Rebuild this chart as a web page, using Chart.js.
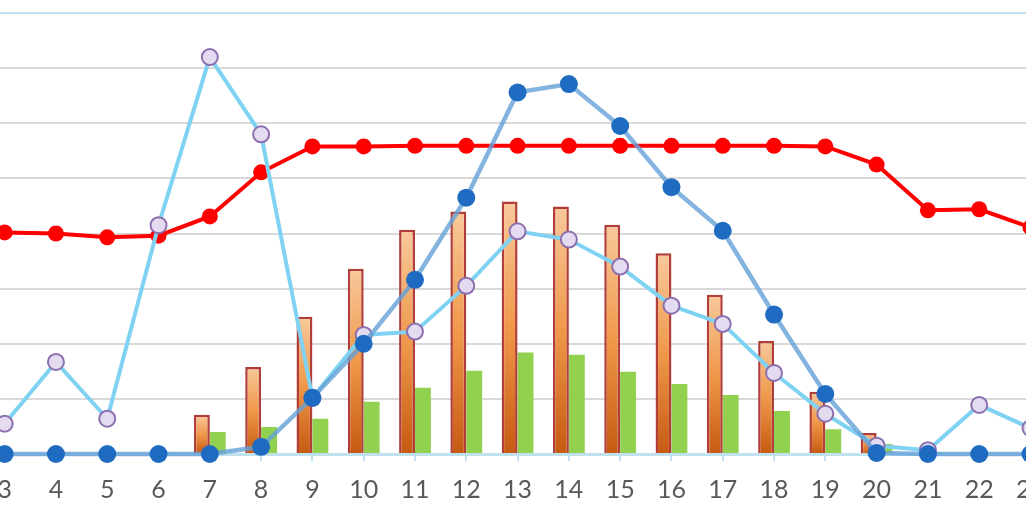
<!DOCTYPE html>
<html>
<head>
<meta charset="utf-8">
<script src="https://cdn.jsdelivr.net/npm/chart.js@4"></script>
<style>
  html, body { margin: 0; padding: 0; background: #fff; overflow: hidden; }
  #wrap { position: absolute; left: -21px; top: 0; width: 1080px; height: 522px; }
</style>
</head>
<body>
<div id="wrap"><canvas id="chart"></canvas></div>
<script>
const hours = ['3', '4', '5', '6', '7', '8', '9', '10', '11', '12', '13', '14', '15', '16', '17', '18', '19', '20', '21', '22', '23']

const redLine   = [40.2, 40.0, 39.3, 39.6, 43.1, 51.1, 55.8, 55.8, 55.9, 55.9, 55.9, 55.9, 55.9, 55.9, 55.9, 55.9, 55.8, 52.5, 44.2, 44.4, 41.1]
const lightLine = [5.5, 16.7, 6.4, 41.5, 72.0, 58.0, 10.2, 21.6, 22.2, 30.5, 40.4, 38.9, 34.0, 26.9, 23.6, 14.7, 7.3, 1.5, 0.7, 8.9, 4.7]
const blueLine  = [0, 0, 0, 0, 0, 1.3, 10.2, 20.0, 31.6, 46.5, 65.6, 67.1, 59.5, 48.4, 40.5, 25.3, 10.9, 0.2, 0, 0, 0]
const orangeBars = [0, 0, 0, 0.2, 7.1, 15.8, 24.9, 33.6, 40.7, 44.0, 45.8, 44.9, 41.6, 36.4, 28.9, 20.5, 11.3, 3.8, 0, 0, 0]
const greenBars  = [0, 0.3, 0.3, 0.3, 4.0, 4.9, 6.4, 9.5, 12.0, 15.1, 18.4, 18.0, 14.9, 12.7, 10.7, 7.8, 4.5, 1.8, 0.3, 0.3, 0]

const axisBlue = '#bfe2ee'

function orangeFill(c) {
  const chart = c.chart
  if (!chart.chartArea || c.raw == null) return '#f0984a'
  const y = chart.scales.y
  const top = y.getPixelForValue(c.raw)
  const base = y.getPixelForValue(0)
  if (base - top < 1) return '#c55a11'
  const g = chart.ctx.createLinearGradient(0, top, 0, base)
  g.addColorStop(0, '#f8c99c')
  g.addColorStop(0.5, '#f0984a')
  g.addColorStop(1, '#c55a11')
  return g
}

new Chart(document.getElementById('chart'), {
  type: 'bar',
  data: {
    labels: hours,
    datasets: [
      {
        type: 'line',
        data: blueLine,
        clip: false,
        borderColor: 'rgba(100,160,215,0.8)',
        borderWidth: 4.5,
        pointRadius: 9,
        pointBackgroundColor: '#1f6bc1',
        pointBorderWidth: 0,
        tension: 0,
      },
      {
        type: 'line',
        data: lightLine,
        clip: false,
        borderColor: '#7fd2f2',
        borderWidth: 4,
        pointRadius: 8,
        pointBackgroundColor: '#e4dbf1',
        pointBorderColor: '#8b6fae',
        pointBorderWidth: 2,
        tension: 0,
      },
      {
        type: 'line',
        data: redLine,
        clip: false,
        borderColor: '#ff0000',
        borderWidth: 4,
        pointRadius: 8,
        pointBackgroundColor: '#ff0000',
        pointBorderWidth: 0,
        tension: 0,
      },
      {
        data: orangeBars,
        backgroundColor: orangeFill,
        borderColor: '#b23e3a',
        borderWidth: 2.5,
        borderSkipped: 'bottom',
        barPercentage: 1,
        categoryPercentage: 0.62,
      },
      {
        data: greenBars,
        backgroundColor: '#92d050',
        borderWidth: 0,
        barPercentage: 1,
        categoryPercentage: 0.62,
      },
    ],
  },
  options: {
    responsive: true,
    maintainAspectRatio: false,
    animation: false,
    layout: { autoPadding: false, padding: { top: 13, left: 0, right: 0, bottom: 0 } },
    plugins: { legend: { display: false }, tooltip: { enabled: false } },
    scales: {
      x: {
        offset: true,
        afterFit: (s) => { s.height = 68 },
        grid: { offset: false, drawOnChartArea: false, color: axisBlue, lineWidth: 2, tickLength: 7 },
        border: { color: axisBlue, width: 3 },
        ticks: { color: '#595959', font: { family: 'Lato', size: 25 }, padding: 14, maxRotation: 0, autoSkip: false },
      },
      y: {
        min: 0,
        max: 80,
        afterFit: (s) => { s.width = 0 },
        ticks: { display: false, stepSize: 10 },
        border: { display: false },
        grid: {
          color: (c) => c.tick.value === 80 ? axisBlue : '#d9d9d9',
          lineWidth: 2,
          drawTicks: false,
        },
      },
    },
  },
})
</script>
</body>
</html>
